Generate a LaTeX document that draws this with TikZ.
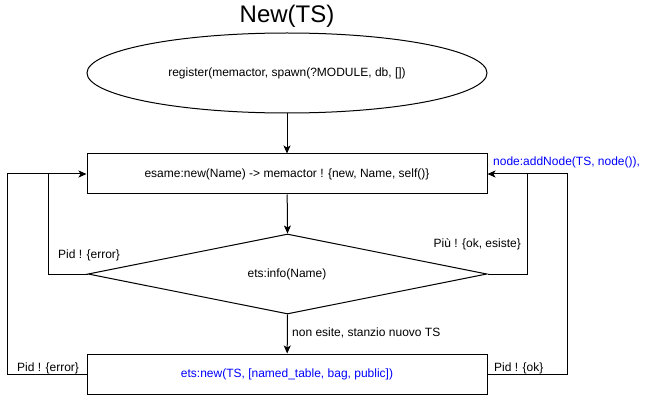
\documentclass[tikz,border=0pt]{standalone}
\usepackage{fontspec}
\setmainfont{Liberation Sans}
\usetikzlibrary{shapes.geometric,arrows.meta}
\definecolor{lblblue}{RGB}{0,0,255}
\begin{document}
\begin{tikzpicture}[x=1pt,y=-1pt,
  box/.style={draw,line width=1pt,minimum width=400pt,minimum height=40pt,inner sep=0pt,font=\fontsize{12}{14}\selectfont},
  arr/.style={line width=1pt,-{Stealth[length=8pt,width=7pt,inset=2pt]}},
  ln/.style={line width=1pt},
  lbl/.style={font=\fontsize{12}{14}\selectfont,inner sep=0pt}]
\useasboundingbox (0,0) rectangle (650,414);
\node[font=\fontsize{24}{28}\selectfont,inner sep=0pt] (title) at (287,16) {New(TS)};
\node[draw,ellipse,line width=1pt,minimum width=400pt,minimum height=80pt,inner sep=0pt,font=\fontsize{12}{14}\selectfont] (start) at (287,73) {register(memactor, spawn(?MODULE, db, [])};
\node[box] (esame) at (287,174) {esame:new(Name) -> memactor ! \{new, Name, self()\}};
\node[draw,diamond,aspect=5,line width=1pt,minimum width=399pt,minimum height=80pt,inner sep=0pt] (info) at (287.5,274) {};
\node[lbl] (infotxt) at (287,274) {ets:info(Name)};
\node[box,text=lblblue] (etsnew) at (287,374) {ets:new(TS, [named\_table, bag, public])};
\coordinate (lA) at (48,274);
\coordinate (lB) at (48,174);
\coordinate (oA) at (7,374);
\coordinate (oB) at (7,174);
\coordinate (rA) at (527,274);
\coordinate (rB) at (527,174);
\coordinate (sA) at (567,374);
\coordinate (sB) at (567,174);
\draw[arr] (start) -- (esame);
\draw[arr] (esame) -- (info.north);
\draw[arr] (info.south) -- (etsnew);
\draw[ln] (info.west) -- (lA) -- (lB);
\draw[ln] (etsnew.west) -- (oA) -- (oB) -- (lB);
\draw[arr] (lB) -- (esame.west);
\draw[ln] (info.east) -- (rA) -- (rB);
\draw[ln] (etsnew.east) -- (sA) -- (sB) -- (rB);
\draw[arr] (rB) -- (esame.east);
\node[lbl,anchor=west] (l1) at (58,255) {Pid ! \{error\}};
\node[lbl,anchor=east] (l2) at (521,244) {Più ! \{ok, esiste\}};
\node[lbl,anchor=west] (l3) at (292,333) {non esite, stanzio nuovo TS};
\node[lbl,anchor=west] (l4) at (17,368) {Pid ! \{error\}};
\node[lbl,anchor=west] (l5) at (494,368) {Pid ! \{ok\}};
\node[lbl,anchor=west,text=lblblue] (l6) at (493,162) {node:addNode(TS, node()),};
\end{tikzpicture}
\end{document}
